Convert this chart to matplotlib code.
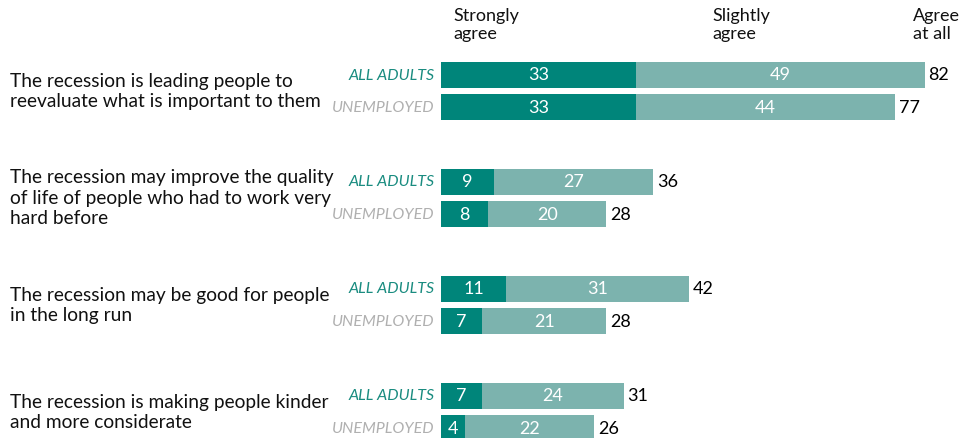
import matplotlib.pyplot as plt

questions = [
    "The recession is leading people to\nreevaluate what is important to them",
    "The recession may improve the quality\nof life of people who had to work very\nhard before",
    "The recession may be good for people\nin the long run",
    "The recession is making people kinder\nand more considerate",
]
groups = ["ALL ADULTS", "UNEMPLOYED"]
strongly = [[33, 33], [9, 8], [11, 7], [7, 4]]
slightly = [[49, 44], [27, 20], [31, 21], [24, 22]]
totals = [[82, 77], [36, 28], [42, 28], [31, 26]]

dark = "#00857a"
light = "#7cb3ae"
group_colors = ["#1a8c80", "#b0b0b0"]

plt.rcParams['font.family'] = ['Lato', 'DejaVu Sans']

fig = plt.figure(figsize=(9.71, 4.39), dpi=100)
x0 = 441 / 971
ax = fig.add_axes([x0, 0, 1 - x0, 1])
ax.set_xlim(0, 530 / 5.9)
ax.set_ylim(439, 0)
ax.axis("off")

for i, q in enumerate(questions):
    base = 75.5 + 107 * i
    for j, g in enumerate(groups):
        y = base + 32.5 * j
        s = strongly[i][j]
        l = slightly[i][j]
        ax.barh(y, s, height=26, color=dark, left=0)
        ax.barh(y, l, height=26, color=light, left=s)
        ax.text(s / 2, y, str(s), color="white", fontsize=13,
                ha="center", va="center")
        ax.text(s + l / 2, y, str(l), color="white", fontsize=13,
                ha="center", va="center")
        ax.text(totals[i][j] + 0.6, y, str(totals[i][j]), color="black",
                fontsize=13, ha="left", va="center")
        fig.text(435 / 971, 1 - y / 439, g, color=group_colors[j],
                 fontsize=11.5, style="italic", ha="right", va="center")
    fig.text(10 / 971, 1 - (base + 16) / 439, q, fontsize=13.8,
             ha="left", va="center", linespacing=1.25, color="#111111")

headers = [("Strongly\nagree", 453), ("Slightly\nagree", 712), ("Agree\nat all", 913)]
for txt, px in headers:
    fig.text(px / 971, 1 - 8 / 439, txt, fontsize=13, ha="left", va="top",
             linespacing=1.15, color="#111111")

fig.savefig("out.png", dpi=100)
